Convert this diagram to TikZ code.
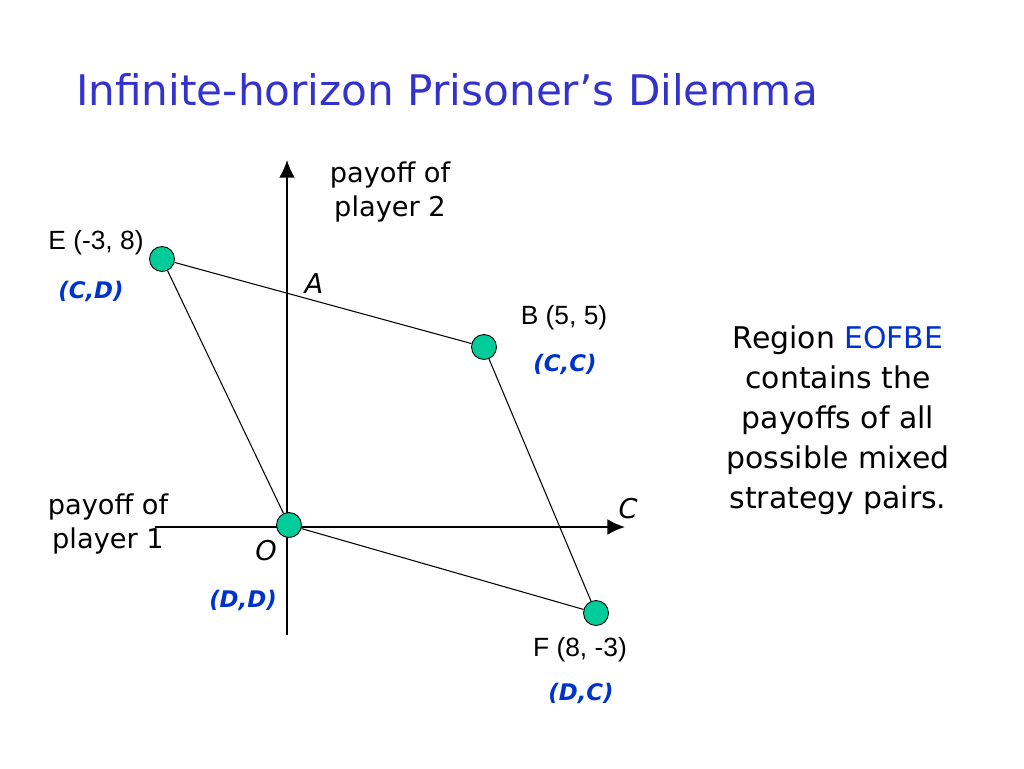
\documentclass[tikz,border=0pt]{standalone}
\usepackage{fontspec}
\setmainfont{DejaVu Sans}
\newfontfamily\arialfont{Liberation Sans}
\usetikzlibrary{arrows.meta}
\definecolor{titleblue}{RGB}{51,51,204}
\definecolor{pairblue}{RGB}{0,51,204}
\definecolor{dotgreen}{RGB}{0,204,153}

\begin{document}
\begin{tikzpicture}[x=0.02cm, y=-0.02cm,
    dot/.style={circle, draw=black, line width=0.5pt, fill=dotgreen, minimum size=0.5cm, inner sep=0pt},
    pair/.style={text=pairblue, font=\fontsize{13}{15}\selectfont\bfseries\itshape},
    point/.style={font=\arialfont\fontsize{15}{18}\selectfont},
    axislbl/.style={font=\fontsize{15.5}{19.3}\selectfont, align=center}]

    % Рамка слайда
    \useasboundingbox (0,0) rectangle (1024,768);

    % Заголовок
    \node[anchor=base, text=titleblue, font=\fontsize{24}{29}\selectfont] (title) at (447,105) {Infinite-horizon Prisoner's Dilemma};

    % Оси
    \coordinate (ybot) at (287,635);
    \coordinate (ytop) at (287,160);
    \coordinate (xleft) at (155,527);
    \coordinate (xright) at (625,527);
    \draw[line width=1.1pt, -{Latex[length=10pt,width=9pt]}] (ybot) -- (ytop);
    \draw[line width=1.1pt, -{Latex[length=10pt,width=9pt]}] (xleft) -- (xright);

    % Вершины области
    \node[dot] (E) at (162,259) {};
    \node[dot] (B) at (484,347) {};
    \node[dot] (O) at (289,525) {};
    \node[dot] (F) at (596,613) {};
    \draw[line width=0.6pt] (E) -- (B) -- (F) -- (O) -- (E);

    % Подписи осей
    \node[axislbl] (p2) at (390,192) {payoff of\\player 2};
    \node[axislbl] (p1) at (108,524) {payoff of\\player 1};
    \node[axislbl, font=\fontsize{15.5}{19.3}\selectfont\itshape] (A) at (314,284) {A};
    \node[axislbl, font=\fontsize{15.5}{19.3}\selectfont\itshape] (Olbl) at (266,551) {O};
    \node[axislbl, font=\fontsize{15.5}{19.3}\selectfont\itshape] (C) at (628,509) {C};

    % Точки и стратегии
    \node[point] (Elbl) at (96,243) {E (-3, 8)};
    \node[pair] (CD) at (91,291) {(C,D)};
    \node[point] (Blbl) at (564,318) {B (5, 5)};
    \node[pair] (CC) at (565,364) {(C,C)};
    \node[pair] (DD) at (243,600) {(D,D)};
    \node[point] (Flbl) at (580,650) {F (8, -3)};
    \node[pair] (DC) at (581,693) {(D,C)};

    % Пояснение справа
    \node[align=center, font=\fontsize{17}{22.7}\selectfont] (region) at (838,420)
        {Region \textcolor{pairblue}{EOFBE}\\contains the\\payoffs of all\\possible mixed\\strategy pairs.};
\end{tikzpicture}
\end{document}
